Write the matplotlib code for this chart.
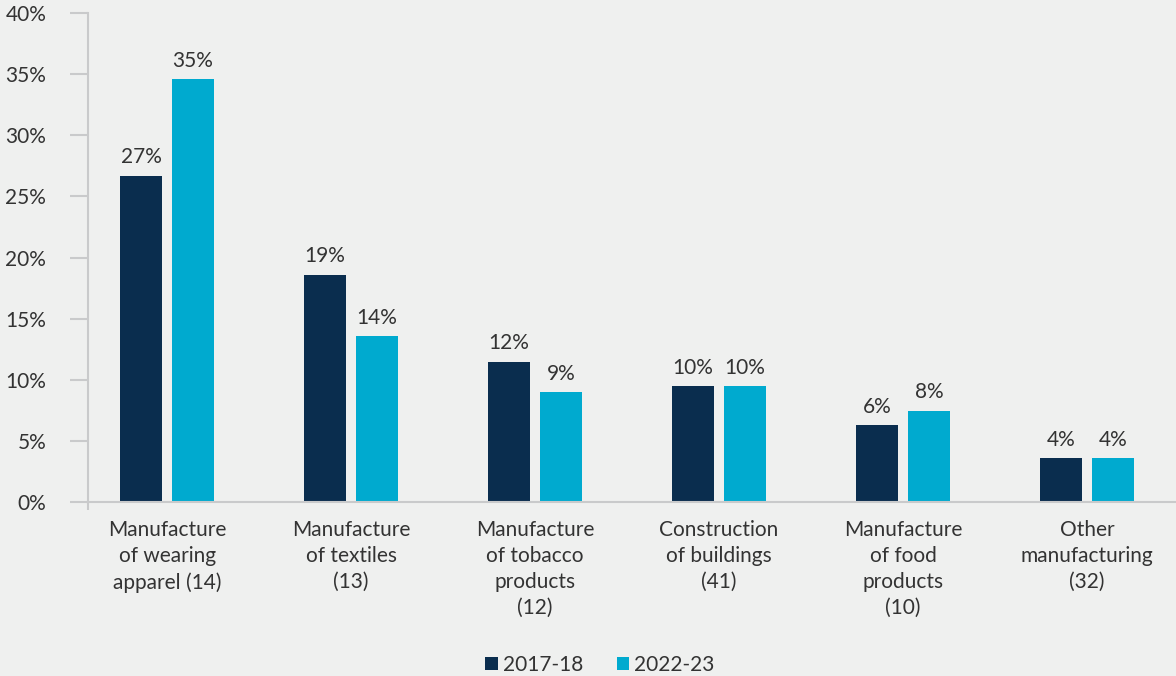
import numpy as np
import matplotlib.pyplot as plt

plt.rcParams['font.family'] = ['Lato', 'DejaVu Sans']

# Share of each sector, two periods
sectors = [
    "Manufacture\nof wearing\napparel (14)",
    "Manufacture\nof textiles\n(13)",
    "Manufacture\nof tobacco\nproducts\n(12)",
    "Construction\nof buildings\n(41)",
    "Manufacture\nof food\nproducts\n(10)",
    "Other\nmanufacturing\n(32)",
]
share_2017 = [26.7, 18.6, 11.5, 9.5, 6.3, 3.6]
share_2022 = [34.6, 13.6, 9.0, 9.5, 7.5, 3.6]
periods = ["2017-18", "2022-23"]

navy = "#0a2d4e"
cyan = "#00aacf"
bg = "#eff0ef"
txt = "#333333"
grid_grey = "#c9cacb"
fs = 15

fig = plt.figure(figsize=(11.76, 6.76), dpi=100, facecolor=bg)
ax = fig.add_axes([88 / 1176, 1 - 502.4 / 676, 1 - 88 / 1176, (502.4 - 12.8) / 676])
ax.set_facecolor(bg)

x = np.arange(len(sectors))
w = 0.228
off = 0.141
b1 = ax.bar(x - off, share_2017, w, color=navy, label=periods[0])
b2 = ax.bar(x + off, share_2022, w, color=cyan, label=periods[1])

for bars in (b1, b2):
    for rect in bars:
        h = rect.get_height()
        ax.annotate(f"{h:.0f}%", (rect.get_x() + rect.get_width() / 2, h),
                    xytext=(0, 6), textcoords="offset points",
                    ha="center", va="bottom", fontsize=fs, color=txt)

ax.set_xlim(-0.43, len(sectors) - 1 + 0.484)
ax.set_ylim(0, 40)
ax.set_yticks(np.arange(0, 41, 5))
ax.set_yticklabels([f"{v}%" for v in range(0, 41, 5)])
ax.set_xticks(x)
ax.set_xticklabels(sectors, linespacing=1.37)

ax.tick_params(axis="y", length=13, width=1.5, color=grid_grey, pad=17,
               labelsize=fs, labelcolor=txt)
ax.tick_params(axis="x", length=0, pad=13, labelsize=fs, labelcolor=txt)
ax.set_xticks([-0.43], minor=True)
ax.tick_params(axis="x", which="minor", length=6, width=1.5, color=grid_grey)

for side in ("top", "right"):
    ax.spines[side].set_visible(False)
for side in ("left", "bottom"):
    ax.spines[side].set_color(grid_grey)
    ax.spines[side].set_linewidth(1.5)

fig.legend(handles=[b1, b2], labels=periods, loc="center",
           bbox_to_anchor=(600 / 1176, 1 - 665 / 676), ncol=2, frameon=False,
           fontsize=fs, labelcolor=txt, handlelength=0.6, handleheight=0.6,
           handletextpad=0.25, columnspacing=1.6)

fig.savefig("out.png", dpi=100, facecolor=bg)
